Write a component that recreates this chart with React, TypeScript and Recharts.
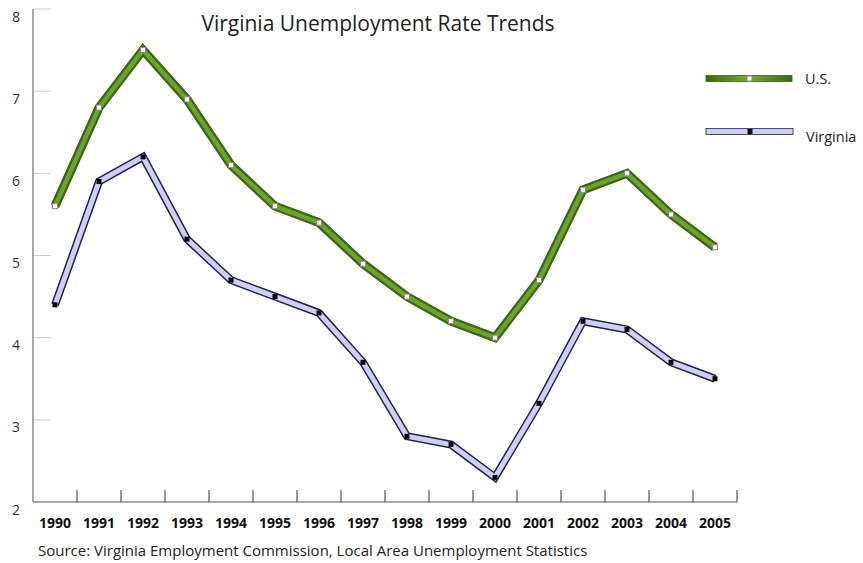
import { LineChart, Line, XAxis, YAxis } from "recharts";

const YEARS = ["1990", "1991", "1992", "1993", "1994", "1995", "1996", "1997", "1998", "1999", "2000", "2001", "2002", "2003", "2004", "2005"];
const US_RATE = [5.6, 6.8, 7.5, 6.9, 6.1, 5.6, 5.4, 4.9, 4.5, 4.2, 4.0, 4.7, 5.8, 6.0, 5.5, 5.1];
const VA_RATE = [4.4, 5.9, 6.2, 5.2, 4.7, 4.5, 4.3, 3.7, 2.8, 2.7, 2.3, 3.2, 4.2, 4.1, 3.7, 3.5];
const Y_TICKS = [2, 3, 4, 5, 6, 7, 8];

const data = YEARS.map((year, i) => ({ year, us: US_RATE[i], va: VA_RATE[i] }));

const FONT = "'Open Sans', sans-serif";
const AXIS_X = 33;
const AXIS_Y = 502;
const BAND = 22;

const UsDot = (props: any) => {
  const { cx, cy } = props;
  if (cx == null || cy == null) return null;
  return <rect x={cx - 2.5} y={cy - 2.5} width={5} height={5} fill="#fff" stroke="#8a8a8a" strokeWidth={1} />;
};

const VaDot = (props: any) => {
  const { cx, cy } = props;
  if (cx == null || cy == null) return null;
  return <rect x={cx - 2.5} y={cy - 2.5} width={5} height={5} fill="#000" />;
};

const YTick = (props: any) => {
  const { y, payload } = props;
  return (
    <g>
      {payload.value !== 2 && (
        <line x1={AXIS_X + 1} x2={AXIS_X + 18} y1={y} y2={y} stroke="#c9c9ee" strokeWidth={1} />
      )}
      <text x={16} y={y + 12.5} textAnchor="middle" fontSize={14} fill="#333" fontFamily={FONT}>
        {payload.value}
      </text>
    </g>
  );
};

const XTick = (props: any) => {
  const { x, payload } = props;
  return (
    <g>
      <line x1={x + BAND} x2={x + BAND} y1={AXIS_Y} y2={AXIS_Y - 12} stroke="#555" strokeWidth={1.2} />
      <text x={x} y={AXIS_Y + 26} textAnchor="middle" fontSize={14} fontWeight={700} fill="#111" fontFamily={FONT}>
        {payload.value}
      </text>
    </g>
  );
};

export default function App() {
  return (
    <div style={{ position: "absolute", left: 0, top: 0, width: 863, height: 563, background: "#fff" }}>
      <LineChart width={863} height={563} data={data} margin={{ top: 9, right: 126, left: 0, bottom: 0 }}>
        <XAxis
          dataKey="year"
          height={61}
          interval={0}
          padding={{ left: BAND, right: BAND }}
          tickLine={false}
          tickSize={0}
          tickMargin={0}
          axisLine={{ stroke: "#555", strokeWidth: 1.2 }}
          tick={<XTick />}
        />
        <YAxis
          width={33}
          domain={[2, 8]}
          ticks={Y_TICKS}
          interval={0}
          tickLine={false}
          tickSize={0}
          axisLine={{ stroke: "#8a8a8a", strokeWidth: 1.5 }}
          tick={<YTick />}
        />
        <Line dataKey="us" stroke="#3c6612" strokeWidth={9} dot={false} activeDot={false} isAnimationActive={false} type="linear" />
        <Line dataKey="us" stroke="#6aa42c" strokeWidth={4.5} dot={<UsDot />} activeDot={false} isAnimationActive={false} type="linear" />
        <Line dataKey="va" stroke="#22224a" strokeWidth={8} dot={false} activeDot={false} isAnimationActive={false} type="linear" />
        <Line dataKey="va" stroke="#cfcff5" strokeWidth={5} dot={<VaDot />} activeDot={false} isAnimationActive={false} type="linear" />
      </LineChart>
      <svg width={863} height={563} style={{ position: "absolute", left: 0, top: 0, pointerEvents: "none" }}>
        <defs>
          <linearGradient id="usLegend" x1="0" y1="0" x2="1" y2="0">
            <stop offset="0%" stopColor="#3c6612" />
            <stop offset="50%" stopColor="#72ae32" />
            <stop offset="100%" stopColor="#3c6612" />
          </linearGradient>
        </defs>
        <text x={378} y={31} textAnchor="middle" fontSize={21} fill="#222" fontFamily={FONT}>
          Virginia Unemployment Rate Trends
        </text>
        <rect x={706} y={75.5} width={86} height={6} fill="url(#usLegend)" stroke="#3c6612" strokeWidth={0.8} />
        <rect x={747} y={76} width={5} height={5} fill="#fff" stroke="#8a8a8a" strokeWidth={1} />
        <text x={805} y={84} fontSize={14.5} fill="#222" fontFamily={FONT}>U.S.</text>
        <rect x={706} y={128.5} width={87} height={6} fill="#cfcff5" stroke="#22224a" strokeWidth={0.8} />
        <rect x={747.5} y={129} width={5} height={5} fill="#000" />
        <text x={806} y={142} fontSize={14.5} fill="#222" fontFamily={FONT}>Virginia</text>
        <text x={38} y={556} fontSize={15} fill="#222" fontFamily={FONT}>
          Source: Virginia Employment Commission, Local Area Unemployment Statistics
        </text>
      </svg>
    </div>
  );
}
